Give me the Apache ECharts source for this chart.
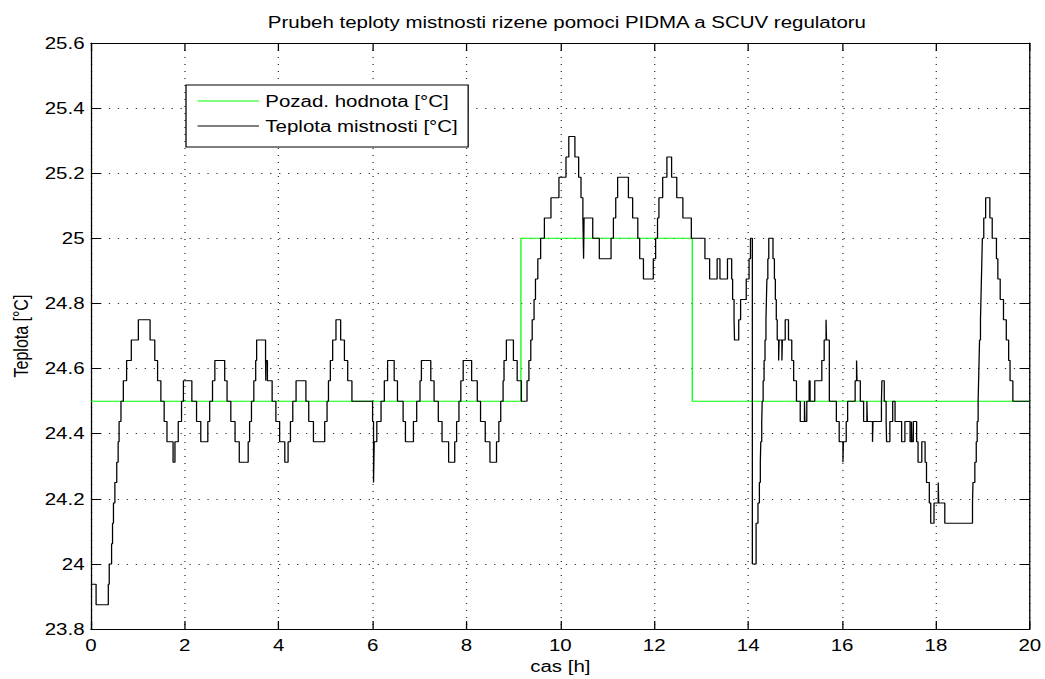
<!DOCTYPE html>
<html>
<head>
<meta charset="utf-8">
<script src="https://cdn.jsdelivr.net/npm/echarts@6/dist/echarts.min.js"></script>
<style>
html,body{margin:0;padding:0;background:#fff;overflow:hidden;}
#wrap{width:1045px;height:679px;overflow:hidden;}
#c{height:679px;transform-origin:0 0;}
</style>
</head>
<body>
<div id="wrap"><div id="c"></div></div>
<script>
// ---- data ----
const chartTitle = 'Prubeh teploty mistnosti rizene pomoci PIDMA a SCUV regulatoru';
const xName = 'cas [h]';
const yName = 'Teplota [°C]';
const seriesNames = ['Pozad. hodnota [°C]', 'Teplota mistnosti [°C]'];

const xTicks = [0, 2, 4, 6, 8, 10, 12, 14, 16, 18, 20];
const yTicks = [23.8, 24, 24.2, 24.4, 24.6, 24.8, 25, 25.2, 25.4, 25.6];

// set-point (change times in h, and value from that time on)
const setTimes = [0, 9.16, 12.81];
const setTemps = [24.5, 25.0, 24.5];

// room temperature (change times in h, and value from that time on)
const roomTimes = [
  0, 0.11, 0.37, 0.39, 0.44, 0.46, 0.48, 0.51, 0.55, 0.58, 0.60, 0.64, 0.69, 0.76, 0.86, 1.01,
  1.26, 1.36, 1.42, 1.49, 1.56, 1.62, 1.75, 1.79, 1.86, 1.93, 1.97, 2.15, 2.25, 2.34, 2.49, 2.53,
  2.59, 2.64, 2.85, 2.90, 2.98, 3.07, 3.16, 3.35, 3.38, 3.42, 3.47, 3.51, 3.53, 3.72, 3.725, 3.73,
  3.76, 3.86, 3.94, 4.02, 4.13, 4.20, 4.25, 4.30, 4.37, 4.58, 4.64, 4.74, 4.98, 5.03, 5.06, 5.10,
  5.15, 5.22, 5.32, 5.40, 5.47, 5.56, 6.00, 6.02, 6.035, 6.09, 6.18, 6.25, 6.32, 6.46, 6.53, 6.65,
  6.70, 6.87, 6.94, 7.01, 7.04, 7.24, 7.31, 7.40, 7.48, 7.62, 7.75, 7.79, 7.84, 7.88, 7.93, 8.11,
  8.23, 8.30, 8.40, 8.50, 8.64, 8.69, 8.73, 8.78, 8.80, 8.85, 9.00, 9.08, 9.17, 9.29, 9.33, 9.37,
  9.40, 9.44, 9.47, 9.52, 9.58, 9.66, 9.80, 9.97, 10.12, 10.18, 10.31, 10.39, 10.44, 10.48, 10.495, 10.505,
  10.69, 10.83, 11.08, 11.13, 11.18, 11.22, 11.45, 11.54, 11.65, 11.69, 11.77, 11.98, 12.03, 12.07, 12.10, 12.18,
  12.27, 12.37, 12.48, 12.61, 12.79, 13.08, 13.18, 13.34, 13.40, 13.56, 13.65, 13.67, 13.70, 13.71, 13.80, 13.84,
  13.96, 14.02, 14.05, 14.09, 14.17, 14.21, 14.24, 14.26, 14.27, 14.29, 14.30, 14.32, 14.34, 14.36, 14.38, 14.39,
  14.40, 14.42, 14.44, 14.53, 14.56, 14.58, 14.60, 14.62, 14.65, 14.66, 14.72, 14.73, 14.79, 14.86, 14.93, 14.97,
  15.03, 15.11, 15.20, 15.21, 15.25, 15.30, 15.32, 15.42, 15.57, 15.62, 15.66, 15.67, 15.73, 15.88, 15.94, 16.02,
  16.03, 16.09, 16.12, 16.28, 16.31, 16.32, 16.39, 16.46, 16.53, 16.54, 16.65, 16.66, 16.84, 16.85, 16.90, 16.94,
  16.95, 17.02, 17.08, 17.13, 17.27, 17.34, 17.45, 17.48, 17.49, 17.52, 17.59, 17.62, 17.70, 17.77, 17.80, 17.86,
  17.89, 17.96, 18.05, 18.06, 18.19, 18.78, 18.79, 18.83, 18.86, 18.88, 18.90, 18.91, 18.92, 18.93, 18.95, 18.96,
  18.97, 18.98, 18.99, 19.02, 19.06, 19.15, 19.20, 19.29, 19.32, 19.37, 19.44, 19.50, 19.55, 19.58, 19.64
];
const roomTemps = [
  23.9375, 23.875, 23.9375, 24.0, 24.0625, 24.125, 24.1875, 24.25, 24.3125, 24.375, 24.4375, 24.5, 24.5625, 24.625, 24.6875, 24.75,
  24.6875, 24.625, 24.5625, 24.5, 24.4375, 24.375, 24.3125, 24.375, 24.4375, 24.5, 24.5625, 24.5, 24.4375, 24.375, 24.4375, 24.5,
  24.5625, 24.625, 24.5625, 24.5, 24.4375, 24.375, 24.3125, 24.375, 24.4375, 24.5, 24.5625, 24.625, 24.6875, 24.625, 24.5625, 24.625,
  24.5625, 24.5, 24.4375, 24.375, 24.3125, 24.375, 24.4375, 24.5, 24.5625, 24.5, 24.4375, 24.375, 24.4375, 24.5, 24.5625, 24.625,
  24.6875, 24.75, 24.6875, 24.625, 24.5625, 24.5, 24.4375, 24.25, 24.375, 24.4375, 24.5, 24.5625, 24.625, 24.5625, 24.5, 24.4375,
  24.375, 24.4375, 24.5, 24.5625, 24.625, 24.5625, 24.5, 24.4375, 24.375, 24.3125, 24.375, 24.4375, 24.5, 24.5625, 24.625, 24.5625,
  24.5, 24.4375, 24.375, 24.3125, 24.375, 24.4375, 24.5, 24.5625, 24.625, 24.6875, 24.625, 24.5625, 24.5, 24.5625, 24.625, 24.6875,
  24.75, 24.8125, 24.875, 24.9375, 25.0, 25.0625, 25.125, 25.1875, 25.25, 25.3125, 25.25, 25.1875, 25.125, 25.0625, 24.9375, 25.0625,
  25.0, 24.9375, 25.0, 25.0625, 25.125, 25.1875, 25.125, 25.0625, 25.0, 24.9375, 24.875, 24.9375, 25.0, 25.0625, 25.125, 25.1875,
  25.25, 25.1875, 25.125, 25.0625, 25.0, 24.9375, 24.875, 24.9375, 24.875, 24.9375, 24.875, 24.8125, 24.75, 24.6875, 24.75, 24.8125,
  24.875, 24.9375, 25.0, 24.0, 24.125, 24.1875, 24.25, 24.3125, 24.375, 24.4375, 24.5, 24.5625, 24.625, 24.6875, 24.75, 24.8125,
  24.875, 24.9375, 25.0, 24.9375, 24.875, 24.8125, 24.75, 24.6875, 24.625, 24.6875, 24.625, 24.6875, 24.75, 24.6875, 24.625, 24.5625,
  24.5, 24.4375, 24.5, 24.4375, 24.5, 24.5625, 24.5, 24.5625, 24.625, 24.6875, 24.75, 24.6875, 24.5, 24.4375, 24.375, 24.3125,
  24.375, 24.4375, 24.5, 24.5625, 24.625, 24.5625, 24.5, 24.4375, 24.5, 24.4375, 24.375, 24.4375, 24.5, 24.5625, 24.5, 24.4375,
  24.375, 24.4375, 24.5, 24.4375, 24.375, 24.4375, 24.375, 24.4375, 24.375, 24.4375, 24.375, 24.3125, 24.375, 24.3125, 24.25, 24.1875,
  24.125, 24.1875, 24.25, 24.1875, 24.125, 24.1875, 24.25, 24.3125, 24.375, 24.4375, 24.5, 24.5625, 24.625, 24.6875, 24.75, 24.8125,
  24.875, 24.9375, 25.0, 25.0625, 25.125, 25.0625, 25.0, 24.9375, 24.875, 24.8125, 24.75, 24.6875, 24.625, 24.5625, 24.5
];

// ---- build step polylines (value holds until the next change time) ----
const X_MIN = xTicks[0], X_MAX = xTicks[xTicks.length - 1];
function stepPairs(times, temps) {
  const out = [];
  for (let i = 0; i < times.length; i++) {
    if (i > 0) out.push([times[i], temps[i - 1]]);
    out.push([times[i], temps[i]]);
  }
  out.push([X_MAX, temps[temps.length - 1]]);
  return out;
}

// the reference figure is stretched horizontally; reproduce that
const SX = 1.28;
const W = 1045 / SX;
const el = document.getElementById('c');
el.style.width = W + 'px';
el.style.transform = 'scaleX(' + SX + ')';

const FONT = '"Liberation Sans", Arial, Helvetica, sans-serif';
const gridLeft = 90 / SX, gridRight = (1045 - 1031) / SX;
const plotCenter = (90 + 1031) / 2 / SX;

const dotted = { color: '#333', width: 1, type: [1, 6] };
const tickStyle = { show: true, inside: true, length: 8, lineStyle: { color: '#000', width: 1 } };
const lineAxis = { show: true, onZero: false, lineStyle: { color: '#000', width: 1 } };

const chart = echarts.init(el, null, { renderer: 'svg', width: W, height: 679 });
chart.setOption({
  animation: false,
  backgroundColor: '#fff',
  textStyle: { fontFamily: FONT },
  title: {
    text: chartTitle,
    left: plotCenter, top: 9, textAlign: 'center',
    textStyle: { fontFamily: FONT, fontSize: 16, fontWeight: 'normal', color: '#000' }
  },
  legend: {
    orient: 'vertical',
    left: 186 / SX, top: 85,
    padding: [7, 8, 12, 9],
    icon: 'rect',
    itemWidth: 48, itemHeight: 1, itemGap: 7,
    backgroundColor: '#fff', borderColor: '#000', borderWidth: 1,
    textStyle: { fontFamily: FONT, fontSize: 16, color: '#000', lineHeight: 18 },
    data: seriesNames
  },
  grid: { left: gridLeft, right: gridRight, top: 43, bottom: 679 - 634, containLabel: false },
  xAxis: [{
    type: 'value', min: X_MIN, max: X_MAX, interval: xTicks[1] - xTicks[0],
    position: 'bottom',
    name: xName, nameLocation: 'middle', nameGap: 22,
    nameTextStyle: { fontFamily: FONT, fontSize: 16, color: '#000' },
    axisLine: lineAxis, axisTick: tickStyle,
    axisLabel: { margin: 8, fontFamily: FONT, fontSize: 16, color: '#000' },
    splitLine: { show: true, lineStyle: dotted }
  }, {
    type: 'value', min: X_MIN, max: X_MAX, interval: xTicks[1] - xTicks[0],
    position: 'top',
    axisLine: lineAxis, axisTick: tickStyle,
    axisLabel: { show: false }, splitLine: { show: false }
  }],
  yAxis: [{
    type: 'value', min: yTicks[0], max: yTicks[yTicks.length - 1], interval: 0.2,
    position: 'left',
    name: yName, nameLocation: 'middle', nameGap: 45,
    nameTextStyle: { fontFamily: FONT, fontSize: 16, color: '#000' },
    axisLine: lineAxis, axisTick: tickStyle,
    axisLabel: { margin: 5, fontFamily: FONT, fontSize: 16, color: '#000',
      formatter: v => String(+v.toFixed(1)) },
    splitLine: { show: true, lineStyle: dotted }
  }, {
    type: 'value', min: yTicks[0], max: yTicks[yTicks.length - 1], interval: 0.2,
    position: 'right',
    axisLine: lineAxis, axisTick: tickStyle,
    axisLabel: { show: false }, splitLine: { show: false }
  }],
  series: [{
    name: seriesNames[0], type: 'line', xAxisIndex: 0, yAxisIndex: 0,
    data: stepPairs(setTimes, setTemps),
    symbol: 'none', showSymbol: false,
    lineStyle: { color: '#00ff00', width: 1 }, itemStyle: { color: '#00ff00' },
    z: 2
  }, {
    name: seriesNames[1], type: 'line', xAxisIndex: 0, yAxisIndex: 0,
    data: stepPairs(roomTimes, roomTemps),
    symbol: 'none', showSymbol: false,
    lineStyle: { color: '#000', width: 1 }, itemStyle: { color: '#000' },
    z: 3
  }]
});
</script>
</body>
</html>
